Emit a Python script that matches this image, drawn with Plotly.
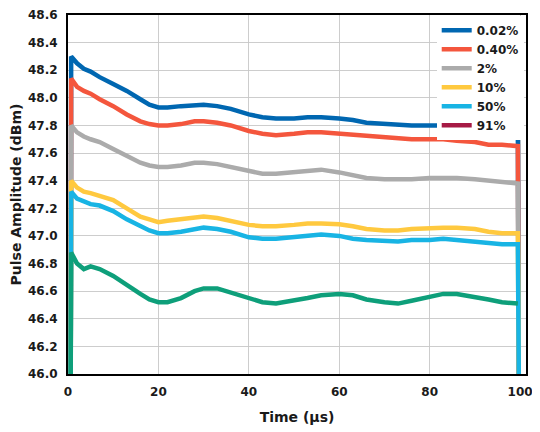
import plotly.graph_objects as go

FONT_FAMILY = "DejaVu Sans"
GRID_LINES_COLOR = "rgba(200,200,200,0.9)"
AXIS_LINE_WIDTH = 2
TRACE_WIDTH = 4.5

# time axis (us), shared by all duty-cycle traces
time_us = [0.6, 0.7, 2, 3.5, 5, 7, 10, 13, 16, 18, 20, 22, 25, 28, 30, 33, 36, 40,
           43, 46, 50, 53, 56, 60, 63, 66, 70, 73, 76, 80, 83, 86, 90, 93, 96, 99.5, 99.7]

amp_002 = [46.0, 48.30, 48.25, 48.21, 48.19, 48.15, 48.10, 48.05, 47.99, 47.95, 47.93, 47.93,
           47.94, 47.95, 47.95, 47.94, 47.92, 47.88, 47.86, 47.85, 47.85, 47.86, 47.86, 47.85,
           47.84, 47.82, 47.81, 47.80, 47.80, 47.80, 47.80, 47.79, 47.78, 47.76, 47.75, 47.75, 46.0]
amp_040 = [46.0, 48.14, 48.08, 48.05, 48.03, 47.99, 47.94, 47.88, 47.83, 47.81, 47.80, 47.80,
           47.81, 47.83, 47.83, 47.82, 47.80, 47.76, 47.74, 47.73, 47.74, 47.75, 47.75, 47.74,
           47.73, 47.72, 47.71, 47.70, 47.70, 47.70, 47.70, 47.69, 47.68, 47.66, 47.66, 47.65, 46.0]
amp_2 = [46.0, 47.80, 47.75, 47.72, 47.70, 47.68, 47.63, 47.58, 47.53, 47.51, 47.50, 47.50,
         47.51, 47.53, 47.53, 47.52, 47.50, 47.47, 47.45, 47.45, 47.46, 47.47, 47.48, 47.46,
         47.44, 47.42, 47.41, 47.41, 47.41, 47.42, 47.42, 47.42, 47.41, 47.40, 47.39, 47.38, 46.0]
amp_10 = [46.0, 47.40, 47.35, 47.32, 47.31, 47.29, 47.26, 47.20, 47.14, 47.12, 47.10, 47.11,
          47.12, 47.13, 47.14, 47.13, 47.11, 47.08, 47.07, 47.07, 47.08, 47.09, 47.09, 47.085,
          47.07, 47.05, 47.04, 47.04, 47.05, 47.06, 47.06, 47.06, 47.05, 47.03, 47.02, 47.02, 46.0]
amp_50 = [46.0, 47.32, 47.27, 47.25, 47.23, 47.22, 47.18, 47.12, 47.07, 47.04, 47.02, 47.02,
          47.03, 47.05, 47.06, 47.05, 47.03, 46.99, 46.98, 46.98, 46.99, 47.00, 47.01, 47.00,
          46.98, 46.97, 46.96, 46.96, 46.97, 46.97, 46.98, 46.97, 46.96, 46.95, 46.94, 46.94, 46.0]
amp_91 = [46.0, 46.88, 46.80, 46.76, 46.78, 46.76, 46.71, 46.64, 46.58, 46.54, 46.52, 46.52,
          46.55, 46.60, 46.62, 46.62, 46.59, 46.55, 46.52, 46.51, 46.53, 46.55, 46.57, 46.58,
          46.57, 46.54, 46.52, 46.51, 46.53, 46.56, 46.58, 46.58, 46.56, 46.54, 46.52, 46.51, None]

labels = ["0.02%", "0.40%", "2%", "10%", "50%", "91%"]
colors = ["#0067B1", "#F4563D", "#ABABAB", "#FFC93F", "#18B4E4", "#A61A45"]
# the 91% curve is drawn green although its legend key is crimson
COLOR_91_LINE = "#0E9F7A"

series = [amp_002, amp_040, amp_2, amp_10, amp_50]

fig = go.Figure()

for label, color, values in zip(labels[:-1], colors[:-1], series):
    fig.add_trace(go.Scatter(x=time_us, y=values, name=label, mode="lines",
                             line=dict(color=color, width=TRACE_WIDTH)))

# legend-only key for 91%
fig.add_trace(go.Scatter(x=[None], y=[None], name=labels[-1], mode="lines",
                         line=dict(color=colors[-1], width=TRACE_WIDTH)))
fig.add_trace(go.Scatter(x=time_us, y=amp_91, name=labels[-1], mode="lines",
                         showlegend=False,
                         line=dict(color=COLOR_91_LINE, width=TRACE_WIDTH)))

# page body adds an 8px offset, so the figure is 8px smaller each way
fig.update_layout(
    width=532,
    height=424,
    plot_bgcolor="white",
    paper_bgcolor="white",
    font=dict(family=FONT_FAMILY, size=12, color="#1a1a1a", weight="bold"),
    margin=dict(l=60, r=14, t=7, b=58, pad=0, autoexpand=False),
    legend=dict(x=0.995, xanchor="right", y=0.998, yanchor="top",
                bgcolor="white", borderwidth=0, itemwidth=30,
                font=dict(size=12)),
    xaxis_title=dict(text="Time (μs)", standoff=14),
    yaxis_title=dict(text="Pulse Amplitude (dBm)", standoff=8),
)
fig.update_xaxes(
    range=[0, 101.3],
    tickvals=[0, 20, 40, 60, 80, 100],
    showline=True,
    linecolor="black",
    linewidth=AXIS_LINE_WIDTH,
    mirror=True,
    showgrid=True,
    gridcolor=GRID_LINES_COLOR,
    gridwidth=1,
    zeroline=False,
    ticks="",
    ticklabelstandoff=6,
)
fig.update_yaxes(
    range=[46.0, 48.6],
    dtick=0.2,
    tickformat=".1f",
    showline=True,
    linecolor="black",
    linewidth=AXIS_LINE_WIDTH,
    mirror=True,
    showgrid=True,
    gridcolor=GRID_LINES_COLOR,
    gridwidth=1,
    zeroline=False,
    ticks="",
    ticklabelstandoff=6,
)

fig.write_html("out.html")
